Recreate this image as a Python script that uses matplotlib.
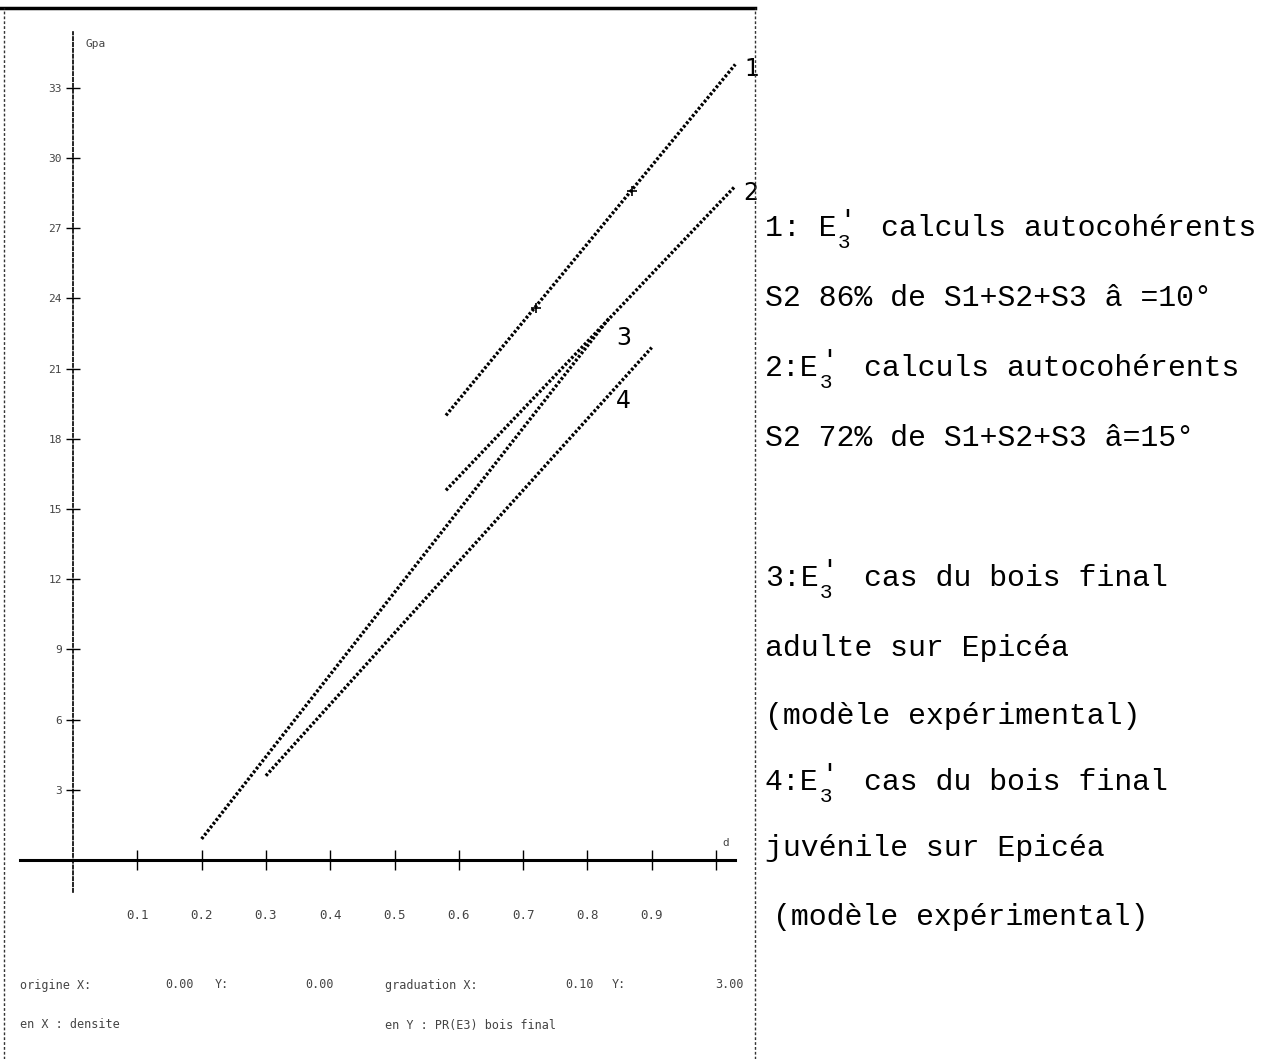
import numpy as np
import matplotlib
matplotlib.use("Agg")
from matplotlib import pyplot as plt
from matplotlib.lines import Line2D

# data (density d, E'3 in GPa)
curve_ids = ["1", "2", "3", "4"]
curve_x = [[0.58, 1.03], [0.58, 1.03], [0.20, 0.835], [0.30, 0.90]]
curve_y = [[19.0, 34.0], [15.8, 28.8], [0.9, 23.2], [3.6, 21.9]]
marks_x = [0.72, 0.87]
marks_y = [23.6, 28.6]

y_ticks = [3, 6, 9, 12, 15, 18, 21, 24, 27, 30, 33]
x_ticks = [0.1, 0.2, 0.3, 0.4, 0.5, 0.6, 0.7, 0.8, 0.9, 1.0]
x_ticklabels = ["0.1", "0.2", "0.3", "0.4", "0.5", "0.6", "0.7", "0.8", "0.9", ""]

# typed legend: start of line (with E'3 after it) and the rest
legend_head = ["1: E", "", "2:E", "", "3:E", "", "", "4:E", "", ""]
legend_rest = ["calculs autocohérents", "S2 86% de S1+S2+S3 â =10°",
               "calculs autocohérents", "S2 72% de S1+S2+S3 â=15°",
               "cas du bois final", "adulte sur Epicéa", "(modèle expérimental)",
               "cas du bois final", "juvénile sur Epicéa", "(modèle expérimental)"]
legend_ypix = [228, 298, 368, 438, 578, 648, 716, 782, 848, 917]

W, H = 1285, 1059
fig = plt.figure(figsize=(W / 100, H / 100), dpi=100)
panel_w = 755
ax = fig.add_axes([0, 0, panel_w / W, 1])

# pixel mapping: x=0 at px 73, 0.1 per 64.3 px ; y=0 at px 860, 23.4 px per GPa
x0, xs = 73, 643.0
y0, ys = 860, 23.4
ax.set_xlim((0 - x0) / xs, (panel_w - x0) / xs)
ax.set_ylim((y0 - H) / ys, y0 / ys)

dot = "#444444"
for cid, xv, yv in zip(curve_ids, curve_x, curve_y):
    ax.plot(xv, yv, color="black", lw=2.4, linestyle=(0, (0.8, 0.6)), solid_capstyle="butt")
ax.plot(marks_x, marks_y, "+", color="black", ms=7, mew=1.2)

# hand written curve numbers
hand = dict(fontsize=17, color="black", family="DejaVu Sans")
ax.text(curve_x[0][1] + 0.015, curve_y[0][1] - 0.2, "1", ha="left", va="center", **hand)
ax.text(curve_x[1][1] + 0.012, curve_y[1][1] - 0.3, "2", ha="left", va="center", **hand)
ax.text(curve_x[2][1] + 0.01, curve_y[2][1] - 0.9, "3", ha="left", va="center", **hand)
ax.text(curve_x[3][1] - 0.055, curve_y[3][1] - 2.3, "4", ha="left", va="center", **hand)

# axes through the origin
for s in ["top", "right"]:
    ax.spines[s].set_visible(False)
ax.spines["left"].set_position(("data", 0))
ax.spines["bottom"].set_position(("data", 0))
ax.spines["left"].set_bounds((y0 - 892) / ys, (y0 - 32) / ys)
ax.spines["bottom"].set_bounds((20 - x0) / xs, (735 - x0) / xs)
ax.spines["left"].set_linestyle((0, (2, 1.5)))
ax.spines["left"].set_linewidth(1.2)
ax.spines["bottom"].set_linewidth(2.2)

ax.set_yticks(y_ticks)
ax.set_yticklabels([str(v) for v in y_ticks])
ax.set_xticks(x_ticks)
ax.set_xticklabels(x_ticklabels)
ax.tick_params(axis="y", direction="inout", length=10, width=1, pad=3,
               labelsize=8, labelcolor=dot, labelfontfamily="DejaVu Sans Mono")
ax.tick_params(axis="x", direction="inout", length=14, width=1, pad=28,
               labelsize=9, labelcolor=dot, labelfontfamily="DejaVu Sans Mono")

ax.text((85 - x0) / xs, (y0 - 44) / ys, "Gpa", fontsize=8, color=dot,
        family="DejaVu Sans Mono", va="center")
ax.text((722 - x0) / xs, (y0 - 843) / ys, "d", fontsize=8, color=dot,
        family="DejaVu Sans Mono", va="center")

# info lines under the plot
info = [(20, "origine X:"), (165, "0.00"), (215, "Y:"), (305, "0.00"),
        (385, "graduation X:"), (565, "0.10"), (612, "Y:"), (715, "3.00")]
for px, s in info:
    fig.text(px / W, 1 - 985 / H, s, fontsize=8.5, color=dot,
             family="DejaVu Sans Mono", va="center")
fig.text(20 / W, 1 - 1025 / H, "en X : densite", fontsize=8.5, color=dot,
         family="DejaVu Sans Mono", va="center")
fig.text(385 / W, 1 - 1025 / H, "en Y : PR(E3) bois final", fontsize=8.5, color=dot,
         family="DejaVu Sans Mono", va="center")

# frame of the plotter sheet
fig.add_artist(Line2D([0, 755 / W], [1 - 8 / H, 1 - 8 / H], color="black", lw=2.5))
fig.add_artist(Line2D([4 / W, 4 / W], [0, 1 - 8 / H], color="#333333", lw=1,
                      linestyle=(0, (2, 1.5))))
fig.add_artist(Line2D([755 / W, 755 / W], [0, 1 - 8 / H], color="#333333", lw=1,
                      linestyle=(0, (2, 1.5))))

# typed legend on the right (Courier-like, fixed pitch)
fs = 21.5
cw = 0.6 * fs / 72 * 100  # character width in px
tx = 765
for head, rest, py in zip(legend_head, legend_rest, legend_ypix):
    yy = 1 - py / H
    if head:
        fig.text(tx / W, yy, head, fontsize=fs, family="Liberation Mono", va="center")
        ex = tx + len(head) * cw
        fig.text((ex + 3) / W, yy + 7 / H, "'", fontsize=19,
                 family="Liberation Mono", va="center", ha="left")
        fig.text((ex + 1) / W, yy - 14 / H, "3", fontsize=15,
                 family="Liberation Mono", va="center", ha="left")
        rx = ex + 2.5 * cw
        fig.text(rx / W, yy, rest, fontsize=fs, family="Liberation Mono", va="center")
    else:
        px = tx + 8 if py == legend_ypix[-1] else tx
        fig.text(px / W, yy, rest, fontsize=fs, family="Liberation Mono", va="center")

fig.savefig("out.png", dpi=100)
